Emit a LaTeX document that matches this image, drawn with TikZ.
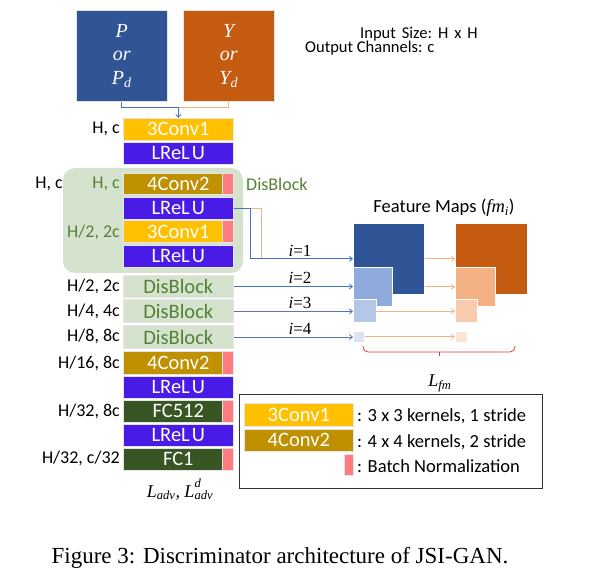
\documentclass[tikz,border=0pt]{standalone}
\usepackage{fontspec}
\setmainfont{Carlito}
\newfontfamily\tnr{Liberation Serif}
\usetikzlibrary{arrows.meta}
\definecolor{pblue}{HTML}{2F5597}
\definecolor{yorange}{HTML}{C55A11}
\definecolor{convy}{HTML}{FFC000}
\definecolor{convb}{HTML}{BF9000}
\definecolor{lrelu}{HTML}{4A1BE6}
\definecolor{fcg}{HTML}{375623}
\definecolor{bnc}{HTML}{FF7C80}
\definecolor{dbfill}{HTML}{D5E3CE}
\definecolor{dbtext}{HTML}{548235}
\definecolor{lnblue}{HTML}{4472C4}
\definecolor{lnor}{HTML}{F4B183}
\definecolor{fb2}{HTML}{8FAADC}
\definecolor{fb3}{HTML}{B4C7E7}
\definecolor{fb4}{HTML}{DAE3F3}
\definecolor{fo2}{HTML}{F4B183}
\definecolor{fo3}{HTML}{F8CBAD}
\definecolor{fo4}{HTML}{FBE5D6}
\definecolor{bracered}{HTML}{E0393E}
\newcommand{\lrl}{LReL\kern2pt U}
\tikzset{
  blk/.style={draw=gray!20, line width=0.6pt, anchor=north west, minimum width=110pt, minimum height=22pt, inner sep=0pt, text=white, font=\fontsize{20.5}{20.5}\selectfont},
  bnbox/.style={fill=bnc, draw=gray!20, line width=0.6pt, anchor=north west, minimum width=11pt, minimum height=22pt, inner sep=0pt},
  dimlab/.style={anchor=east, inner sep=0pt, font=\fontsize{18}{18}\selectfont},
  inbox/.style={anchor=north west, inner sep=0pt, draw=gray!20, line width=0.6pt, minimum width=91pt, minimum height=91pt, text=white, align=center, font=\tnr\itshape\fontsize{20}{23.5}\selectfont},
  fmap/.style={anchor=north west, inner sep=0pt, draw=white, line width=0.6pt},
  arr/.style={-{Straight Barb[length=3pt,width=5pt]}},
  ilab/.style={anchor=base, inner sep=0pt, font=\tnr\fontsize{17}{17}\selectfont},
  legtxt/.style={anchor=west, inner sep=0pt, font=\fontsize{18.5}{18.5}\selectfont},
  toptxt/.style={anchor=west, inner sep=0pt, font=\fontsize{16.5}{16.5}\selectfont},
}
\begin{document}
\begin{tikzpicture}[x=1pt,y=-1pt]
\useasboundingbox (0,0) rectangle (595,580);
% inputs
\node[inbox, fill=pblue] (P) at (76,10) {P\\or\\P\textsubscript{d}};
\node[inbox, fill=yorange] (Y) at (183,10) {Y\\or\\Y\textsubscript{d}};
\node[toptxt] (ins) at (360,34) {Input\hspace{6pt}Size:\hspace{6pt}H\hspace{6pt}x\hspace{6pt}H};
\node[toptxt] (outc) at (305,48.5) {Output Channels: c};
% DisBlock background
\fill[dbfill, rounded corners=12pt] (63,168) rectangle (243,273);
% stack
\node[blk, fill=convy] (c1) at (123,118) {3Conv1};
\node[blk, fill=lrelu] (r1) at (123,142) {\lrl};
\node[blk, fill=convb, minimum height=21pt] (c2) at (123,173) {4Conv2};
\node[bnbox, minimum height=21pt] (bn1) at (222,173) {};
\node[blk, fill=lrelu] (r2) at (123,197) {\lrl};
\node[blk, fill=convy] (c3) at (123,220.5) {3Conv1};
\node[bnbox] (bn2) at (222,220.5) {};
\node[blk, fill=lrelu] (r3) at (123,245) {\lrl};
\node[blk, fill=dbfill, text=dbtext, minimum height=22.5pt] (d1) at (123,275) {DisBlock};
\node[blk, fill=dbfill, text=dbtext, minimum height=23pt] (d2) at (123,299.5) {DisBlock};
\node[blk, fill=dbfill, text=dbtext, minimum height=23.5pt] (d3) at (123,325) {DisBlock};
\node[blk, fill=convb, minimum height=22.5pt] (c4) at (123,351.5) {4Conv2};
\node[bnbox, minimum height=22.5pt] (bn3) at (222,351.5) {};
\node[blk, fill=lrelu] (r4) at (123,376) {\lrl};
\node[blk, fill=fcg] (f1) at (123,400) {FC512};
\node[bnbox] (bn4) at (222,400) {};
\node[blk, fill=lrelu] (r5) at (123,424) {\lrl};
\node[blk, fill=fcg] (f2) at (123,447.5) {FC1};
\node[bnbox] (bn5) at (222,447.5) {};
\node[anchor=base, inner sep=0pt, font=\tnr\itshape\fontsize{18}{18}\selectfont] (ladv) at (180,497) {L\textsubscript{adv}, L\rlap{\raisebox{3pt}{\textsuperscript{d}}}\textsubscript{adv}};
% labels
\node[dimlab] (l1) at (120,129) {H, c};
\node[dimlab] (l2) at (63,184) {H, c};
\node[dimlab, text=dbtext] (l3) at (120,184) {H, c};
\node[dimlab, text=dbtext] (l4) at (120,232) {H/2, 2c};
\node[anchor=west, inner sep=0pt, text=dbtext, font=\fontsize{18}{18}\selectfont] (dbl) at (246,184) {DisBlock};
\node[dimlab] (l5) at (120,286) {H/2, 2c};
\node[dimlab] (l6) at (120,311) {H/4, 4c};
\node[dimlab] (l7) at (120,336) {H/8, 8c};
\node[dimlab] (l8) at (120,363) {H/16, 8c};
\node[dimlab] (l9) at (120,411) {H/32, 8c};
\node[dimlab] (l10) at (120,458) {H/32, c/32};
% input connectors
\path (c1.north) ++(0,-11) coordinate (m);
\draw[lnor, line width=0.8pt] (Y.south) |- (m);
\draw[lnblue, line width=0.8pt] (P.south) |- (m);
\draw[lnblue, line width=0.8pt, arr] (m) -- (c1.north);
% feature maps
\node[fmap, fill=pblue, minimum width=71pt, minimum height=71pt] (B1) at (353,223) {};
\node[fmap, fill=fb2, minimum width=39pt, minimum height=39pt] (B2) at (353,267) {};
\node[fmap, fill=fb3, minimum width=22.5pt, minimum height=22.5pt] (B3) at (353,299.5) {};
\node[fmap, fill=fb4, minimum width=11pt, minimum height=11pt] (B4) at (353,331) {};
\node[fmap, fill=yorange, minimum width=72pt, minimum height=71pt] (O1) at (455,223) {};
\node[fmap, fill=fo2, minimum width=40pt, minimum height=39pt] (O2) at (455,267) {};
\node[fmap, fill=fo3, minimum width=22pt, minimum height=22.5pt] (O3) at (455,299.5) {};
\node[fmap, fill=fo4, minimum width=12pt, minimum height=11pt] (O4) at (455,331) {};
\node[anchor=center, inner sep=0pt, font=\fontsize{18.5}{18.5}\selectfont] (fmt) at (444,208) {Feature Maps ({\tnr\itshape fm\textsubscript{i}})};
% stack to feature maps
\draw[lnor, line width=0.8pt] (r2.east) -- ++(28,0) coordinate (oc);
\draw[lnor, line width=0.8pt] (oc) -- (oc |- B1.west);
\draw[lnblue, line width=0.8pt, arr] (r2.east) -- ++(17,0) |- (B1.west);
\draw[lnblue, line width=0.8pt, arr] (d1.east) -- (d1.east -| B2.west);
\draw[lnblue!70!gray, line width=0.8pt, arr] (d2.east) -- (d2.east -| B3.west);
\draw[lnblue!70!gray, line width=0.8pt, arr] (d3.east) -- (d3.east -| B4.west);
\node[ilab] (i1) at (300,257) {\itshape i\upshape=1};
\node[ilab] (i2) at (300,284) {\itshape i\upshape=2};
\node[ilab] (i3) at (300,309) {\itshape i\upshape=3};
\node[ilab] (i4) at (300,335) {\itshape i\upshape=4};
\draw[lnor, line width=0.8pt, arr] (B1.east) -- (O1.west);
\draw[lnor, line width=0.8pt, arr] (B1.east |- B2.west) -- (O2.west);
\draw[lnor, line width=0.8pt, arr] (B3.east) -- (O3.west);
\draw[lnor, line width=0.8pt, arr] (B4.east) -- (O4.west);
% brace
\coordinate (bl) at (363,346);
\coordinate (br) at (515,346);
\coordinate (bm) at (439,352);
\draw[bracered, line width=0.8pt, rounded corners=4pt] (bl) -- (364,352) -- (514,352) -- (br);
\draw[bracered, line width=0.8pt] (bm) -- ++(0,4);
\node[anchor=center, inner sep=0pt, font=\tnr\itshape\fontsize{18}{18}\selectfont] (lfm) at (440,383) {L\textsubscript{fm}};
% legend
\draw[black!80, line width=1pt] (239.5,394.5) rectangle (542,488);
\node[blk, fill=convy, minimum width=109pt, minimum height=22.5pt] (lc1) at (244,403) {3Conv1};
\node[blk, fill=convb, minimum width=109pt, minimum height=22pt] (lc2) at (244,429) {4Conv2};
\node[bnbox, minimum width=9pt, minimum height=21pt] (lbn) at (343.5,454) {};
\node[legtxt] (t1) at (357,416.5) {: 3 x 3 kernels, 1 stride};
\node[legtxt] (t2) at (357,442.5) {: 4 x 4 kernels, 2 stride};
\node[legtxt] (t3) at (357,466) {: Batch Normalization};
% caption
\node[anchor=base, inner sep=0pt, font=\tnr\fontsize{23}{23}\selectfont] (cap) at (280,563) {Figure 3: Discriminator architecture of JSI-GAN.};
\end{tikzpicture}
\end{document}
